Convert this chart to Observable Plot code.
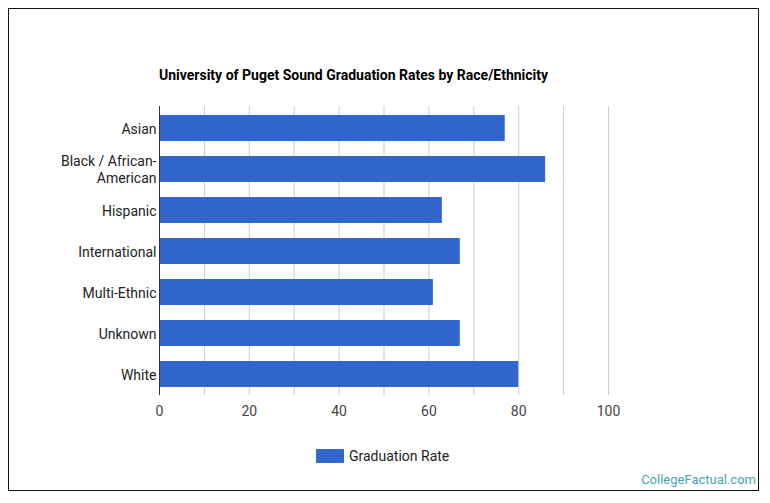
<!DOCTYPE html>
<html>
<head>
<meta charset="utf-8">
<script src="https://cdn.jsdelivr.net/npm/d3@7"></script>
<script src="https://cdn.jsdelivr.net/npm/@observablehq/plot@0.6"></script>
<style>
  html, body { margin: 0; padding: 0; background: #fff; }
  #wrap { position: relative; width: 770px; height: 503px; overflow: hidden; font-family: Roboto, sans-serif; }
  #border { position: absolute; left: 8px; top: 8px; width: 751px; height: 483px; border: 1.5px solid #111; box-sizing: border-box; }
  #title { position: absolute; left: 159px; top: 67px; font-size: 14px; font-weight: bold; color: #000; white-space: nowrap; }
  #legend { position: absolute; left: 316px; top: 448px; font-size: 14px; color: #222; display: flex; align-items: center; white-space: nowrap; }
  #legend .sw { width: 28px; height: 14px; background: #3366cc; margin-right: 5px; }
  #wm { position: absolute; right: 14px; top: 472px; font-size: 13px; color: #4aa3b5; white-space: nowrap; }
  #chart { position: absolute; left: 0; top: 0; }
</style>
</head>
<body>
<div id="wrap">
  <div id="chart"></div>
  <div id="border"></div>
  <div id="title">University of Puget Sound Graduation Rates by Race/Ethnicity</div>
  <div id="legend"><div class="sw"></div><span>Graduation Rate</span></div>
  <div id="wm">CollegeFactual.com</div>
</div>
<script>
const categories = ["Asian", "Black / African-American", "Hispanic", "International", "Multi-Ethnic", "Unknown", "White"];
const rates = [77, 86, 63, 67, 61, 67, 80];
const xTicks = [0, 20, 40, 60, 80, 100];
const gridLines = [10, 20, 30, 40, 50, 60, 70, 80, 90, 100];

const data = categories.map((c, i) => ({category: c, rate: rates[i]}));

const chart = Plot.plot({
  width: 770,
  height: 503,
  marginLeft: 159,
  marginRight: 162,
  marginTop: 106,
  marginBottom: 108,
  style: {fontFamily: "Roboto, sans-serif", background: "transparent"},
  x: {domain: [0, 100], label: null},
  y: {domain: categories, paddingInner: 0.37, paddingOuter: 0.185, label: null},
  marks: [
    Plot.ruleX(gridLines, {stroke: "#cccccc", strokeWidth: 1}),
    Plot.barX(data, {y: "category", x: "rate", fill: "#3366cc"}),
    Plot.ruleX([0], {stroke: "#333333", strokeWidth: 1}),
    Plot.axisX(xTicks, {tickSize: 0, tickPadding: 11, fontSize: 14, fill: "#444", label: null, tickFormat: d => String(d)}),
    Plot.axisY({tickSize: 0, tickPadding: 3, fontSize: 14, fill: "#222", lineHeight: 1.2, label: null,
      tickFormat: d => d.replace("African-", "African-\n")})
  ]
});
document.getElementById("chart").appendChild(chart);
</script>
</body>
</html>
